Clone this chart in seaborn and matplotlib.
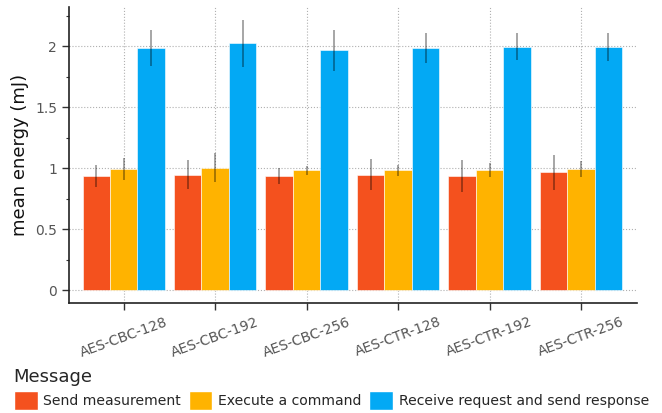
import numpy as np
import pandas as pd
import matplotlib
matplotlib.use("Agg")
import matplotlib.pyplot as plt
import seaborn as sns
from matplotlib.ticker import FuncFormatter, MultipleLocator

categories = ["AES-CBC-128", "AES-CBC-192", "AES-CBC-256", "AES-CTR-128", "AES-CTR-192", "AES-CTR-256"]
messages = ["Send measurement", "Execute a command", "Receive request and send response"]
send_measurement = [0.937, 0.948, 0.937, 0.948, 0.937, 0.965]
send_measurement_err = [0.093, 0.120, 0.063, 0.128, 0.128, 0.142]
execute_command = [0.995, 1.003, 0.984, 0.984, 0.984, 0.995]
execute_command_err = [0.090, 0.120, 0.036, 0.044, 0.055, 0.063]
receive_request = [1.984, 2.022, 1.965, 1.984, 1.995, 1.995]
receive_request_err = [0.147, 0.191, 0.166, 0.120, 0.109, 0.115]
colors = ["#F4511E", "#FFB300", "#03A9F4"]

sns.set_theme(style="white")
plt.rcParams['font.family'] = ['DejaVu Sans']

rows = []
for msg, vals, errs in zip(messages,
                           [send_measurement, execute_command, receive_request],
                           [send_measurement_err, execute_command_err, receive_request_err]):
    for c, v, e in zip(categories, vals, errs):
        rows.append({"cipher": c, "Message": msg, "energy": v, "err": e})
df = pd.DataFrame(rows)

fig = plt.figure(figsize=(6.62, 4.13), dpi=100)
ax = fig.add_axes([0.104, 0.266, 0.858, 0.717])

sns.barplot(data=df, x="cipher", y="energy", hue="Message", order=categories,
            hue_order=messages, palette=colors, width=0.9, errorbar=None,
            saturation=1, edgecolor="white", linewidth=0.4, ax=ax, zorder=2)

# error bars placed at centres of the bars drawn by seaborn
for container, msg in zip(ax.containers, messages):
    sub = df[df["Message"] == msg].set_index("cipher").loc[categories]
    xs = [p.get_x() + p.get_width() / 2 for p in container.patches]
    hs = [p.get_height() for p in container.patches]
    ax.errorbar(xs, hs, yerr=sub["err"].values, fmt="none", ecolor="black",
                alpha=0.35, elinewidth=1.4, capsize=0, zorder=3)

ax.set_xlim(-0.6, 5.61)
ax.set_ylim(-0.105, 2.32)
ax.yaxis.set_major_locator(MultipleLocator(0.5))
ax.yaxis.set_minor_locator(MultipleLocator(0.25))
ax.yaxis.set_major_formatter(FuncFormatter(lambda v, p: f"{v:g}"))
ax.grid(True, which="major", axis="both", linestyle=":", color="#b0b0b0", linewidth=0.8, zorder=0)
ax.set_axisbelow(True)

for s in ["top", "right"]:
    ax.spines[s].set_visible(False)
for s in ["left", "bottom"]:
    ax.spines[s].set_color("#222222")
    ax.spines[s].set_linewidth(1.2)

ax.tick_params(axis="y", which="major", left=True, length=5, width=1, color="#333333",
               labelsize=10, labelcolor="#555555")
ax.tick_params(axis="y", which="minor", left=True, length=2.5, width=0.8, color="#333333")
ax.tick_params(axis="x", which="major", bottom=True, length=5, width=1, color="#333333",
               labelsize=10, labelcolor="#555555")
plt.setp(ax.get_xticklabels(), rotation=20, ha="center", rotation_mode="default")

ax.set_xlabel("")
ax.set_ylabel("mean energy (mJ)", fontsize=13, color="#111111")

ax.get_legend().remove()
handles = [matplotlib.patches.Patch(facecolor=c, edgecolor="white") for c in colors]
leg = fig.legend(handles, messages, title="Message", loc="lower left",
                 bbox_to_anchor=(0.008, -0.012), ncol=3, frameon=False,
                 fontsize=10.1, title_fontsize=13, handlelength=1.7, handleheight=1.7,
                 handletextpad=0.4, columnspacing=0.55, borderaxespad=0.2,
                 labelspacing=0.3)
leg._legend_box.align = "left"

fig.savefig("out.png", dpi=100)
